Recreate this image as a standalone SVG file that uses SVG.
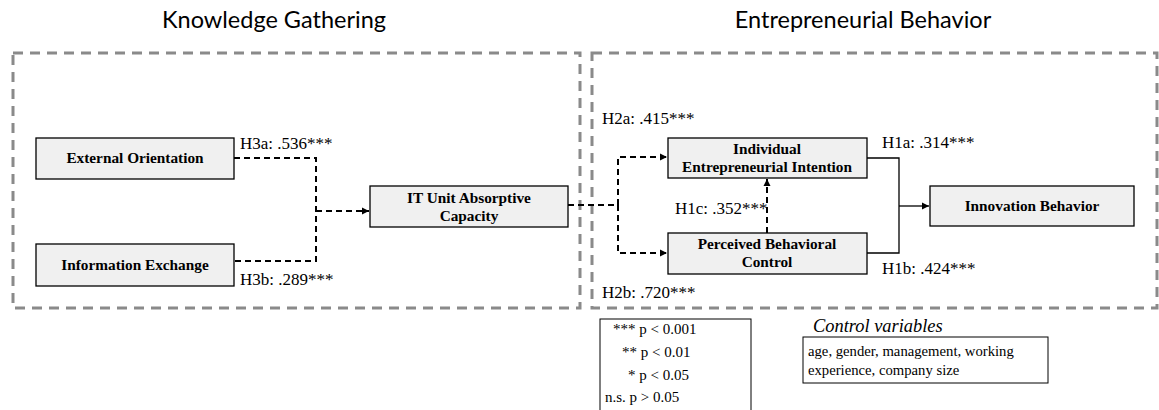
<svg xmlns="http://www.w3.org/2000/svg" width="1159" height="410" viewBox="0 0 1159 410">
<style>
.grp{fill:none;stroke:#8a8a8a;stroke-width:3;stroke-dasharray:10 7}
.node rect{fill:#f0f0f0;stroke:#000;stroke-width:1.3}
.node text{font-family:'Liberation Serif','Times New Roman','DejaVu Serif',serif;font-weight:bold;font-size:15.3px;text-anchor:middle;fill:#000}
.title{font-family:Lato,'Open Sans',sans-serif;font-size:23.5px;text-anchor:middle;fill:#000}
.lbl{font-family:'Liberation Serif','Times New Roman','DejaVu Serif',serif;font-size:17px;fill:#000}
.sm{font-family:'Liberation Serif','Times New Roman','DejaVu Serif',serif;font-size:15px;fill:#000}
.it{font-family:'Liberation Serif','Times New Roman','DejaVu Serif',serif;font-style:italic;font-size:18.4px;fill:#000}
.dash{fill:none;stroke:#000;stroke-width:2;stroke-dasharray:6 4}
.solid{fill:none;stroke:#000;stroke-width:1.3}
</style>
<defs>
<marker id="ah" markerWidth="8" markerHeight="8" refX="7" refY="4" orient="auto" markerUnits="userSpaceOnUse">
<path d="M0,0.5 L7,4 L0,7.5 Z" fill="#000"/>
</marker>
</defs>
<rect width="1159" height="410" fill="#fff"/>
<text class="title" x="274" y="28">Knowledge Gathering</text>
<text class="title" x="863" y="28">Entrepreneurial Behavior</text>
<rect class="grp" x="13" y="53" width="567" height="255"/>
<rect class="grp" x="592" y="53" width="565" height="255"/>
<g id="connectors">
<path class="dash" d="M234,158 H316 V261 H234"/>
<path class="dash" d="M316,211 H369" marker-end="url(#ah)"/>
<path class="dash" d="M568,205 H618 V157 H667" marker-end="url(#ah)"/>
<path class="dash" d="M618,205 V253 H667" marker-end="url(#ah)"/>
<path class="dash" d="M767,233 V179" marker-end="url(#ah)"/>
<path class="solid" d="M867,158 H899 V253 H867"/>
<path class="solid" d="M899,206 H929" marker-end="url(#ah)"/>
</g>
<g id="labels">
<text class="lbl" x="240" y="149">H3a: .536***</text>
<text class="lbl" x="240" y="285">H3b: .289***</text>
<text class="lbl" x="602" y="124">H2a: .415***</text>
<text class="lbl" x="602" y="298">H2b: .720***</text>
<text class="lbl" x="675" y="214">H1c: .352***</text>
<text class="lbl" x="882" y="148">H1a: .314***</text>
<text class="lbl" x="882" y="274">H1b: .424***</text>
</g>
<g id="external-orientation" class="node"><rect x="36" y="138" width="198" height="41"/><text x="135" y="163">External Orientation</text></g>
<g id="information-exchange" class="node"><rect x="36" y="244" width="198" height="42"/><text x="135" y="270">Information Exchange</text></g>
<g id="it-unit" class="node"><rect x="370" y="186" width="198" height="41"/><text x="469" y="203">IT Unit Absorptive</text><text x="469" y="221">Capacity</text></g>
<g id="iei" class="node"><rect x="668" y="138" width="199" height="40"/><text x="767" y="154">Individual</text><text x="767" y="172">Entrepreneurial Intention</text></g>
<g id="pbc" class="node"><rect x="668" y="233" width="199" height="41"/><text x="767" y="249">Perceived Behavioral</text><text x="767" y="267">Control</text></g>
<g id="innovation" class="node"><rect x="930" y="186" width="204" height="40"/><text x="1032" y="211">Innovation Behavior</text></g>
<g id="legend">
<rect x="600" y="319" width="151" height="100" fill="none" stroke="#000" stroke-width="1"/>
<text class="sm" x="613" y="334">*** p &lt; 0.001</text>
<text class="sm" x="622" y="357">** p &lt; 0.01</text>
<text class="sm" x="628" y="380">* p &lt; 0.05</text>
<text class="sm" x="605" y="402">n.s. p &gt; 0.05</text>
</g>
<g id="controls">
<text class="it" x="813" y="332">Control variables</text>
<rect x="803" y="337" width="245" height="46" fill="none" stroke="#000" stroke-width="1"/>
<text class="sm" x="808" y="356" style="font-size:14.7px">age, gender, management, working</text>
<text class="sm" x="808" y="375" style="font-size:14.7px">experience, company size</text>
</g>
</svg>
